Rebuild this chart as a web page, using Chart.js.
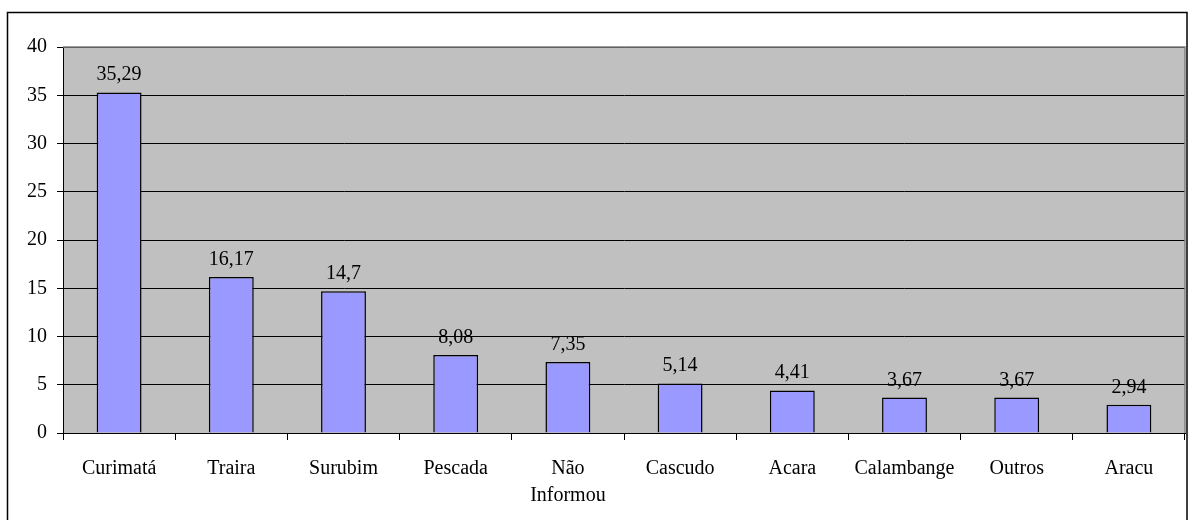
<!DOCTYPE html>
<html>
<head>
<meta charset="utf-8">
<script src="https://cdn.jsdelivr.net/npm/chart.js@4"></script>
<style>
  html, body { margin: 0; padding: 0; background: #fff; }
  #wrap { width: 1188px; height: 520px; }
</style>
</head>
<body>
<div id="wrap"><canvas id="grafico" width="1188" height="520"></canvas></div>
<script>
const especies = ["Curimatá", "Traira", "Surubim", "Pescada", ["Não", "Informou"], "Cascudo", "Acara", "Calambange", "Outros", "Aracu"];
const valores = [35.29, 16.17, 14.7, 8.08, 7.35, 5.14, 4.41, 3.67, 3.67, 2.94];
const rotulos = ["35,29", "16,17", "14,7", "8,08", "7,35", "5,14", "4,41", "3,67", "3,67", "2,94"];

const fonte = "'Liberation Serif', 'Times New Roman', serif";

// Rahmen, grauer Hintergrund und Werte über den Balken
const extras = {
  id: 'extras',
  beforeDraw(chart) {
    const ctx = chart.ctx;
    const a = chart.chartArea;
    ctx.save();
    ctx.fillStyle = '#fff';
    ctx.fillRect(0, 0, chart.width, chart.height);
    ctx.strokeStyle = '#000';
    ctx.lineWidth = 1.5;
    ctx.strokeRect(7.5, 12.5, 1179.5, 520);
    ctx.fillStyle = '#C0C0C0';
    ctx.fillRect(a.left, a.top, a.right - a.left, a.bottom - a.top);
    ctx.restore();
  },
  afterDatasetsDraw(chart) {
    const ctx = chart.ctx;
    const a = chart.chartArea;
    ctx.save();
    ctx.strokeStyle = '#808080';
    ctx.lineWidth = 1.5;
    ctx.beginPath();
    ctx.moveTo(a.left, a.top);
    ctx.lineTo(a.right, a.top);
    ctx.lineTo(a.right, a.bottom);
    ctx.stroke();
    ctx.fillStyle = '#000';
    ctx.font = '20px ' + fonte;
    ctx.textAlign = 'center';
    ctx.textBaseline = 'alphabetic';
    chart.getDatasetMeta(0).data.forEach((bar, i) => {
      ctx.fillText(rotulos[i], bar.x, bar.y - 12);
    });
    ctx.restore();
  }
};

new Chart(document.getElementById('grafico').getContext('2d'), {
  type: 'bar',
  data: {
    labels: especies,
    datasets: [{
      data: valores,
      backgroundColor: '#9999FF',
      borderColor: '#000',
      borderWidth: 1.5,
      categoryPercentage: 1,
      barPercentage: 0.4
    }]
  },
  options: {
    responsive: false,
    animation: false,
    layout: { padding: { top: 47, right: 3, left: 0, bottom: 0 } },
    plugins: { legend: { display: false }, tooltip: { enabled: false } },
    scales: {
      x: {
        afterFit(s) { s.height = 87; },
        grid: { display: true, drawOnChartArea: false, drawTicks: true, tickLength: 7, color: '#000', offset: true },
        border: { color: '#000', width: 1 },
        ticks: { color: '#000', font: { family: fonte, size: 20, lineHeight: 1.35 }, padding: 15, maxRotation: 0, autoSkip: false }
      },
      y: {
        min: 0, max: 40,
        afterFit(s) { s.width = 63; },
        grid: { color: '#000', tickLength: 6 },
        border: { color: '#000', width: 1 },
        ticks: { stepSize: 5, color: '#000', font: { family: fonte, size: 20 }, padding: 10 }
      }
    }
  },
  plugins: [extras]
});
</script>
</body>
</html>
